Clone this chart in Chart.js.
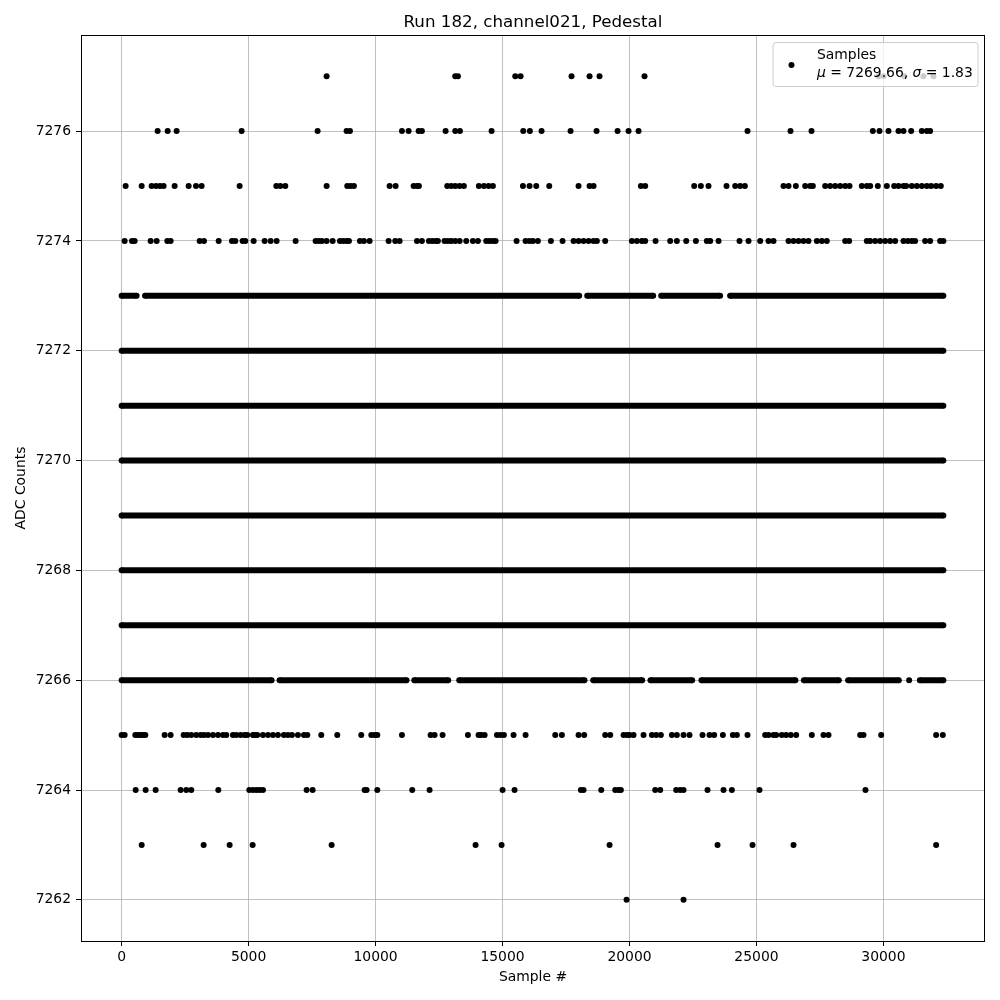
<!DOCTYPE html>
<html>
<head>
<meta charset="utf-8">
<script src="https://cdn.jsdelivr.net/npm/chart.js@4/dist/chart.umd.min.js"></script>
<style>
  body { margin: 0; background: #fff; }
  canvas { display: block; }
</style>
</head>
<body>
<canvas id="pedestalChart" width="1000" height="1000"></canvas>
<script>
// Tick labels
const xTicks = [0, 5000, 10000, 15000, 20000, 25000, 30000];
const yTicks = [7262, 7264, 7266, 7268, 7270, 7272, 7274, 7276];

// Last sample index (rows run from 0 to here)
const lastSample = 32360;

// Levels that are filled across the whole run
const fullLevels = [7267, 7268, 7269, 7270, 7271, 7272];

// Nearly full levels: runs of samples [start, end]
const runs7273 = [[0, 590], [921, 18020], [18335, 20933], [21248, 23568], [23962, 32360]];
const runs7266 = [[0, 5906], [6220, 11220], [11524, 12862], [13295, 18228], [18571, 20500],
    [20827, 22468], [22834, 26535], [26866, 28244], [28611, 30606], [31433, 32360]];
const dots7266 = [31012];

// Sparse levels: sample numbers of single hits
const dots7277 = [8072, 13138, 13244, 15501, 15710, 17718, 18427, 18820, 20592,
    29805, 30002, 30828, 31576, 31970];
const dots7276 = [1418, 1813, 2166, 4726, 7718, 8859, 8991, 11039, 11301, 11695, 11825,
    12758, 13138, 13322, 14569, 15816, 16078, 16538, 17679, 18703, 19530, 19963, 20356,
    24648, 26341, 27168, 29582, 29845, 30200, 30593, 30790, 31092, 31512, 31709, 31840];
const dots7275 = [158, 789, 1182, 1353, 1510, 1654, 2088, 2639, 2928, 3151, 4647, 6091,
    6248, 6445, 8073, 8886, 9018, 9148, 10553, 10789, 11498, 11629, 11708, 12823, 12981,
    13138, 13309, 13479, 14069, 14267, 14450, 14621, 15803, 16064, 16327, 16839, 17994,
    18427, 18584, 20449, 20619, 22548, 22810, 23112, 23821, 24162, 24359, 24543, 26065,
    26263, 26551, 26919, 27115, 27221, 27706, 27903, 28100, 28296, 28494, 28664, 29150,
    29346, 29478, 29780, 30134, 30423, 30593, 30790, 30895, 31118, 31315, 31512, 31709,
    31879, 32076, 32260];
const dots7274 = [119, 408, 513, 1143, 1379, 1799, 1930, 3073, 3243, 3821, 4345, 4476,
    4765, 4870, 5198, 5631, 5867, 6103, 6851, 7639, 7771, 7888, 8073, 8309, 8597, 8729,
    8859, 8952, 9385, 9543, 9766, 10514, 10776, 10947, 11629, 11825, 12101, 12233, 12363,
    12455, 12718, 12849, 12981, 13138, 13309, 13571, 13833, 14031, 14358, 14490, 14621,
    14726, 15553, 15907, 16064, 16196, 16393, 16905, 17364, 17797, 17994, 18191, 18388,
    18584, 18716, 19044, 20094, 20290, 20488, 20619, 21026, 21603, 21865, 22233, 22614,
    23046, 23178, 23507, 24333, 24687, 25147, 25475, 25672, 26263, 26459, 26656, 26853,
    27049, 27378, 27574, 27771, 28494, 28651, 29346, 29478, 29675, 29871, 30068, 30265,
    30462, 30790, 30961, 31118, 31249, 31643, 31840, 32234, 32360];
const dots7265 = [0, 119, 539, 644, 749, 841, 933, 1694, 1930, 2442, 2587, 2744, 2941,
    3111, 3243, 3400, 3597, 3794, 3991, 4122, 4384, 4516, 4686, 4843, 4949, 5172, 5264,
    5342, 5566, 5763, 5959, 6156, 6392, 6550, 6707, 6943, 7180, 7312, 7862, 8492, 9437,
    9832, 9962, 10068, 11039, 12167, 12324, 12639, 13637, 14057, 14162, 14294, 14779,
    14923, 15055, 15435, 15907, 17075, 17338, 17994, 18217, 19044, 19241, 19766, 19897,
    20002, 20159, 20553, 20881, 21052, 21236, 21669, 21865, 22128, 22364, 22876, 23152,
    23335, 23677, 24070, 24228, 24648, 25343, 25475, 25672, 25776, 25999, 26170, 26354,
    26564, 27181, 27640, 27837, 29084, 29215, 29911, 32076, 32338];
const dots7264 = [553, 946, 1340, 2324, 2547, 2744, 3807, 5028, 5172, 5304, 5434, 5566,
    7285, 7522, 9569, 9647, 10068, 11445, 12127, 15002, 15474, 18086, 18191, 18888, 19438,
    19568, 19661, 21013, 21210, 21839, 21997, 22128, 23073, 23703, 24032, 25120, 29293];
const dots7263 = [789, 3230, 4253, 5159, 8270, 13939, 14963, 19215, 23467, 24845, 26459, 32076];
const dots7262 = [19884, 22128];

const legendLine1 = 'Samples';
const legendMu = '7269.66';
const legendSigma = '1.83';

const FONT = '"DejaVu Sans", "Liberation Sans", sans-serif';

function dotSet(level, xs) {
    return {
        data: xs.map(x => ({ x: x, y: level })),
        backgroundColor: '#000',
        pointRadius: 3,
        pointBorderWidth: 0,
        pointHoverRadius: 3,
        showLine: false
    };
}

function runSet(level, runs) {
    const pts = [];
    runs.forEach(r => {
        pts.push({ x: r[0], y: level }, { x: r[1], y: level }, { x: r[1] + 1, y: null });
    });
    return {
        data: pts,
        showLine: true,
        borderColor: '#000',
        borderWidth: 6,
        backgroundColor: '#000',
        pointRadius: 3,
        pointBorderWidth: 0,
        spanGaps: false,
        tension: 0
    };
}

const datasets = [];
fullLevels.forEach(lv => datasets.push(runSet(lv, [[0, lastSample]])));
datasets.push(runSet(7273, runs7273));
datasets.push(runSet(7266, runs7266));
datasets.push(dotSet(7266, dots7266));
datasets.push(dotSet(7277, dots7277));
datasets.push(dotSet(7276, dots7276));
datasets.push(dotSet(7275, dots7275));
datasets.push(dotSet(7274, dots7274));
datasets.push(dotSet(7265, dots7265));
datasets.push(dotSet(7264, dots7264));
datasets.push(dotSet(7263, dots7263));
datasets.push(dotSet(7262, dots7262));

// title, frame and legend drawn the matplotlib way
const decorations = {
    id: 'decorations',
    afterDatasetsDraw(chart) {
        const ctx = chart.ctx;
        const a = chart.chartArea;
        ctx.save();
        ctx.strokeStyle = '#000';
        ctx.lineWidth = 1;
        ctx.strokeRect(Math.round(a.left) + 0.5, Math.round(a.top) + 0.5,
            Math.round(a.right - a.left) - 1, Math.round(a.bottom - a.top));
        ctx.restore();
    },
    afterDraw(chart) {
        const ctx = chart.ctx;
        const a = chart.chartArea;
        ctx.save();
        // title
        ctx.fillStyle = '#000';
        ctx.font = '16.7px ' + FONT;
        ctx.textAlign = 'center';
        ctx.textBaseline = 'alphabetic';
        ctx.fillText('Run 182, channel021, Pedestal', (a.left + a.right) / 2, a.top - 8.5);

        // legend box
        const bx = 773, by = 42.5, bw = 205, bh = 44;
        ctx.beginPath();
        ctx.roundRect(bx, by, bw, bh, 3);
        ctx.fillStyle = 'rgba(255,255,255,0.8)';
        ctx.fill();
        ctx.strokeStyle = '#cccccc';
        ctx.lineWidth = 1;
        ctx.stroke();

        ctx.beginPath();
        ctx.arc(791.5, 65, 3, 0, Math.PI * 2);
        ctx.fillStyle = '#000';
        ctx.fill();

        ctx.textAlign = 'left';
        ctx.font = '13.9px ' + FONT;
        ctx.fillText(legendLine1, 817, 58.5);

        let x = 817;
        const y2 = 76.5;
        const parts = [
            ['italic', '\u03bc'], ['normal', ' = ' + legendMu + ', '],
            ['italic', '\u03c3'], ['normal', ' = ' + legendSigma]
        ];
        parts.forEach(p => {
            ctx.font = (p[0] === 'italic' ? 'italic ' : '') + '13.9px ' + FONT;
            ctx.fillText(p[1], x, y2);
            x += ctx.measureText(p[1]).width;
        });
        ctx.restore();
    }
};

const tickFont = { family: FONT, size: 13.9 };

new Chart(document.getElementById('pedestalChart'), {
    type: 'scatter',
    data: { datasets: datasets },
    options: {
        responsive: false,
        animation: false,
        layout: { padding: { top: 35, right: 15, left: 0, bottom: 0 } },
        plugins: {
            legend: { display: false },
            tooltip: { enabled: false },
            title: { display: false }
        },
        scales: {
            x: {
                type: 'linear',
                min: -1600,
                max: 34000,
                afterBuildTicks: s => { s.ticks = xTicks.map(v => ({ value: v })); },
                afterFit: s => { s.height = 59; },
                ticks: {
                    font: tickFont,
                    color: '#000',
                    padding: 3,
                    maxRotation: 0,
                    autoSkip: false,
                    callback: v => String(v)
                },
                grid: { color: '#b0b0b0', lineWidth: 0.8, tickColor: '#000', tickLength: 5, tickWidth: 1 },
                border: { display: false },
                title: {
                    display: true,
                    text: 'Sample #',
                    color: '#000',
                    font: { family: FONT, size: 13.9 },
                    padding: { top: 0, bottom: 14.5 }
                }
            },
            y: {
                type: 'linear',
                min: 7261.25,
                max: 7277.75,
                afterBuildTicks: s => { s.ticks = yTicks.map(v => ({ value: v })); },
                afterFit: s => { s.width = 81; },
                ticks: {
                    font: tickFont,
                    color: '#000',
                    padding: 5,
                    autoSkip: false,
                    callback: v => String(v)
                },
                grid: { color: '#b0b0b0', lineWidth: 0.8, tickColor: '#000', tickLength: 5, tickWidth: 1 },
                border: { display: false },
                title: {
                    display: true,
                    text: 'ADC Counts',
                    color: '#000',
                    font: { family: FONT, size: 13.9 },
                    padding: { top: 13.5, bottom: 0 }
                }
            }
        }
    },
    plugins: [decorations]
});
</script>
</body>
</html>
